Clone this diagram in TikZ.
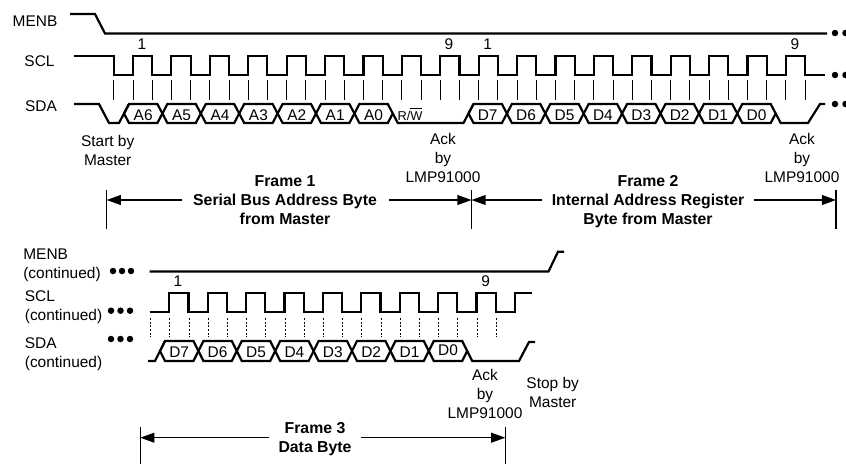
\documentclass[tikz,border=0pt]{standalone}
\usepackage{fontspec}
\setmainfont{Liberation Sans}
\usetikzlibrary{arrows.meta}
\tikzset{
	sig/.style={line width=1.25pt, line join=miter},
	tick/.style={line width=0.55pt},
	dtick/.style={line width=0.55pt, dash pattern=on 1.2pt off 0.9pt},
	bar/.style={line width=0.65pt},
	lbl/.style={inner sep=0pt, font=\fontsize{8.8}{10.8}\selectfont, align=center},
	hd/.style={inner sep=0pt, font=\bfseries\fontsize{9}{10.8}\selectfont, align=center},
	dot/.style={fill=black, draw=none, circle, minimum size=3.7pt, inner sep=0pt}
}
% one bus cell: left point x, top y, bottom y
\newcommand{\buscell}[3]{
	\draw[sig] (#1,{(#2+#3)/2}) -- ({#1+5},#2) -- ({#1+33.4},#2) -- ({#1+38.4},{(#2+#3)/2}) -- ({#1+33.4},#3) -- ({#1+5},#3) -- cycle;
}
\begin{document}
\begin{tikzpicture}[x=0.02cm,y=-0.02cm,>={Stealth[length=8pt,width=5.6pt,inset=0pt]}]
	\useasboundingbox (0,0) rectangle (846,464);
	\path
	(106.7,190) coordinate (Fa1) (106.7,229) coordinate (Fa2)
	(471.5,190) coordinate (Fb1) (471.5,229) coordinate (Fb2)
	(836,190) coordinate (Fc1) (836,229) coordinate (Fc2)
	(140.3,427) coordinate (Fd1) (140.3,464) coordinate (Fd2)
	(505.3,427) coordinate (Fe1) (505.3,464) coordinate (Fe2)
	(106.7,200) coordinate (Ea) (471.5,200) coordinate (Eb) (836,200) coordinate (Ec)
	(140.3,437.7) coordinate (Ed) (505.3,437.7) coordinate (Ee)
	;
	% first row
	\node[lbl] (menb) at (35,21.5) {MENB};
	\node[lbl] (scl) at (39.5,61) {SCL};
	\node[lbl] (sda) at (41,106) {SDA};
	\draw[sig] (70,14) -- (95,14) -- (105,33.5) -- (827,33.5);
	\draw[sig] (74,56) -- (113.6,56) -- (113.6,75) foreach \k in {0,...,17} { -- ({133+38.4*\k},75) -- ({133+38.4*\k},56) -- ({152.2+38.4*\k},56) -- ({152.2+38.4*\k},75) } -- (825,75);
	\foreach \j in {0,...,36} \draw[tick] ({113.8+19.2*\j},80) -- ({113.8+19.2*\j},100);
	\draw[sig] (74,104) -- (99,104) -- (109,123) -- (119,123) -- (129,104);
	\foreach \t [count=\k from 0] in {A6,A5,A4,A3,A2,A1,A0} {
		\buscell{124+38.4*\k}{104}{123}
		\node[lbl] (top\t) at ({143.2+38.4*\k},115) {\t};
	}
	\draw[sig] (392.8,113.5) -- (397.8,123) -- (463.5,123) -- (473.5,104);
	\node[lbl, font=\fontsize{7.3}{9}\selectfont] (rw) at (410,114) {R/$\overline{\mbox{W}}$};
	\foreach \t [count=\k from 0] in {D7,D6,D5,D4,D3,D2,D1,D0} {
		\buscell{468.5+38.4*\k}{104}{123}
		\node[lbl] (top\t) at ({487.7+38.4*\k},115) {\t};
	}
	\draw[sig] (775.7,113.5) -- (780.7,123) -- (808,123) -- (820,104) -- (825,104);
	\node[lbl] (n1) at (142,44) {1};
	\node[lbl] (n9) at (449,44) {9};
	\node[lbl] (n1b) at (487.7,44) {1};
	\node[lbl] (n9b) at (795,44) {9};
	\foreach \y in {33,75,104} {
		\node[dot] (r\y a) at (835,\y) {};
		\node[dot] (r\y b) at (845.5,\y) {};
	}
	\node[lbl] (start) at (107.7,150) {Start by\\Master};
	\node[lbl] (ack1) at (443,157.5) {Ack\\by\\LMP91000};
	\node[lbl] (ack2) at (802,157.5) {Ack\\by\\LMP91000};
	% frames
	\draw[bar] (Fa1) -- (Fa2);
	\draw[bar] (Fb1) -- (Fb2);
	\draw[bar] (Fc1) -- (Fc2);
	\node[hd] (fr1) at (285,200.5) {Frame 1\\Serial Bus Address Byte\\from Master};
	\node[hd] (fr2) at (648,202) {Frame 2\\Internal Address Register\\Byte from Master};
	\draw[->, bar] (181.7,200) coordinate (Sa) -- (Ea);
	\draw[->, bar] (389,200) coordinate (Sb) -- (Eb);
	\draw[->, bar] (541.7,200) coordinate (Sc) -- (Eb);
	\draw[->, bar] (754,200) coordinate (Sd) -- (Ec);
	% second row
	\node[lbl, anchor=west, text width=80pt, align=left] (menbc) at (23,265) {MENB\\(continued)};
	\node[lbl, anchor=west, text width=80pt, align=left] (sclc) at (24.5,307) {SCL\\(continued)};
	\node[lbl, anchor=west, text width=80pt, align=left] (sdac) at (24.5,354) {SDA\\(continued)};
	\foreach \x in {113,122,131} \node[dot] (m\x) at (\x,271) {};
	\foreach \x in {111,120.5,130} \node[dot] (s\x) at (\x,310.7) {};
	\foreach \x in {111,120.5,130} \node[dot] (q\x) at (\x,339) {};
	\draw[sig] (149.5,271.5) -- (548.5,271.5) -- (558,251.7) -- (564,251.7);
	\draw[sig] (149.5,311.7) foreach \k in {0,...,8} { -- ({169.3+38.4*\k},311.7) -- ({169.3+38.4*\k},293.3) -- ({188.5+38.4*\k},293.3) -- ({188.5+38.4*\k},311.7) } -- (515,311.7) -- (515,293.3) -- (531.7,293.3);
	\foreach \j in {0,...,18} \draw[dtick] ({150.7+19.2*\j},318) -- ({150.7+19.2*\j},336.7);
	\draw[sig] (148,361) -- (155,361) -- (165,341);
	\foreach \t/\d [count=\k from 0] in {D7/0,D6/0,D5/0,D4/0,D3/0,D2/0,D1/0,D0/-1.5} {
		\buscell{160+38.4*\k}{341}{361}
		\node[lbl] (bot\t) at ({179.2+38.4*\k},{352+\d}) {\t};
	}
	\draw[sig] (467.2,351) -- (472.2,361) -- (519,361) -- (529,342) -- (535,342);
	\node[lbl] (n1c) at (178,281.5) {1};
	\node[lbl] (n9c) at (485.7,281.5) {9};
	\node[lbl] (ack3) at (485,393.5) {Ack\\by\\LMP91000};
	\node[lbl] (stop) at (552.7,392.5) {Stop by\\Master};
	\draw[bar] (Fd1) -- (Fd2);
	\draw[bar] (Fe1) -- (Fe2);
	\node[hd] (fr3) at (315,439) {Frame 3\\Data Byte};
	\draw[->, bar] (269,437.7) coordinate (Se) -- (Ed);
	\draw[->, bar] (360.7,437.7) coordinate (Sf) -- (Ee);
\end{tikzpicture}
\end{document}
